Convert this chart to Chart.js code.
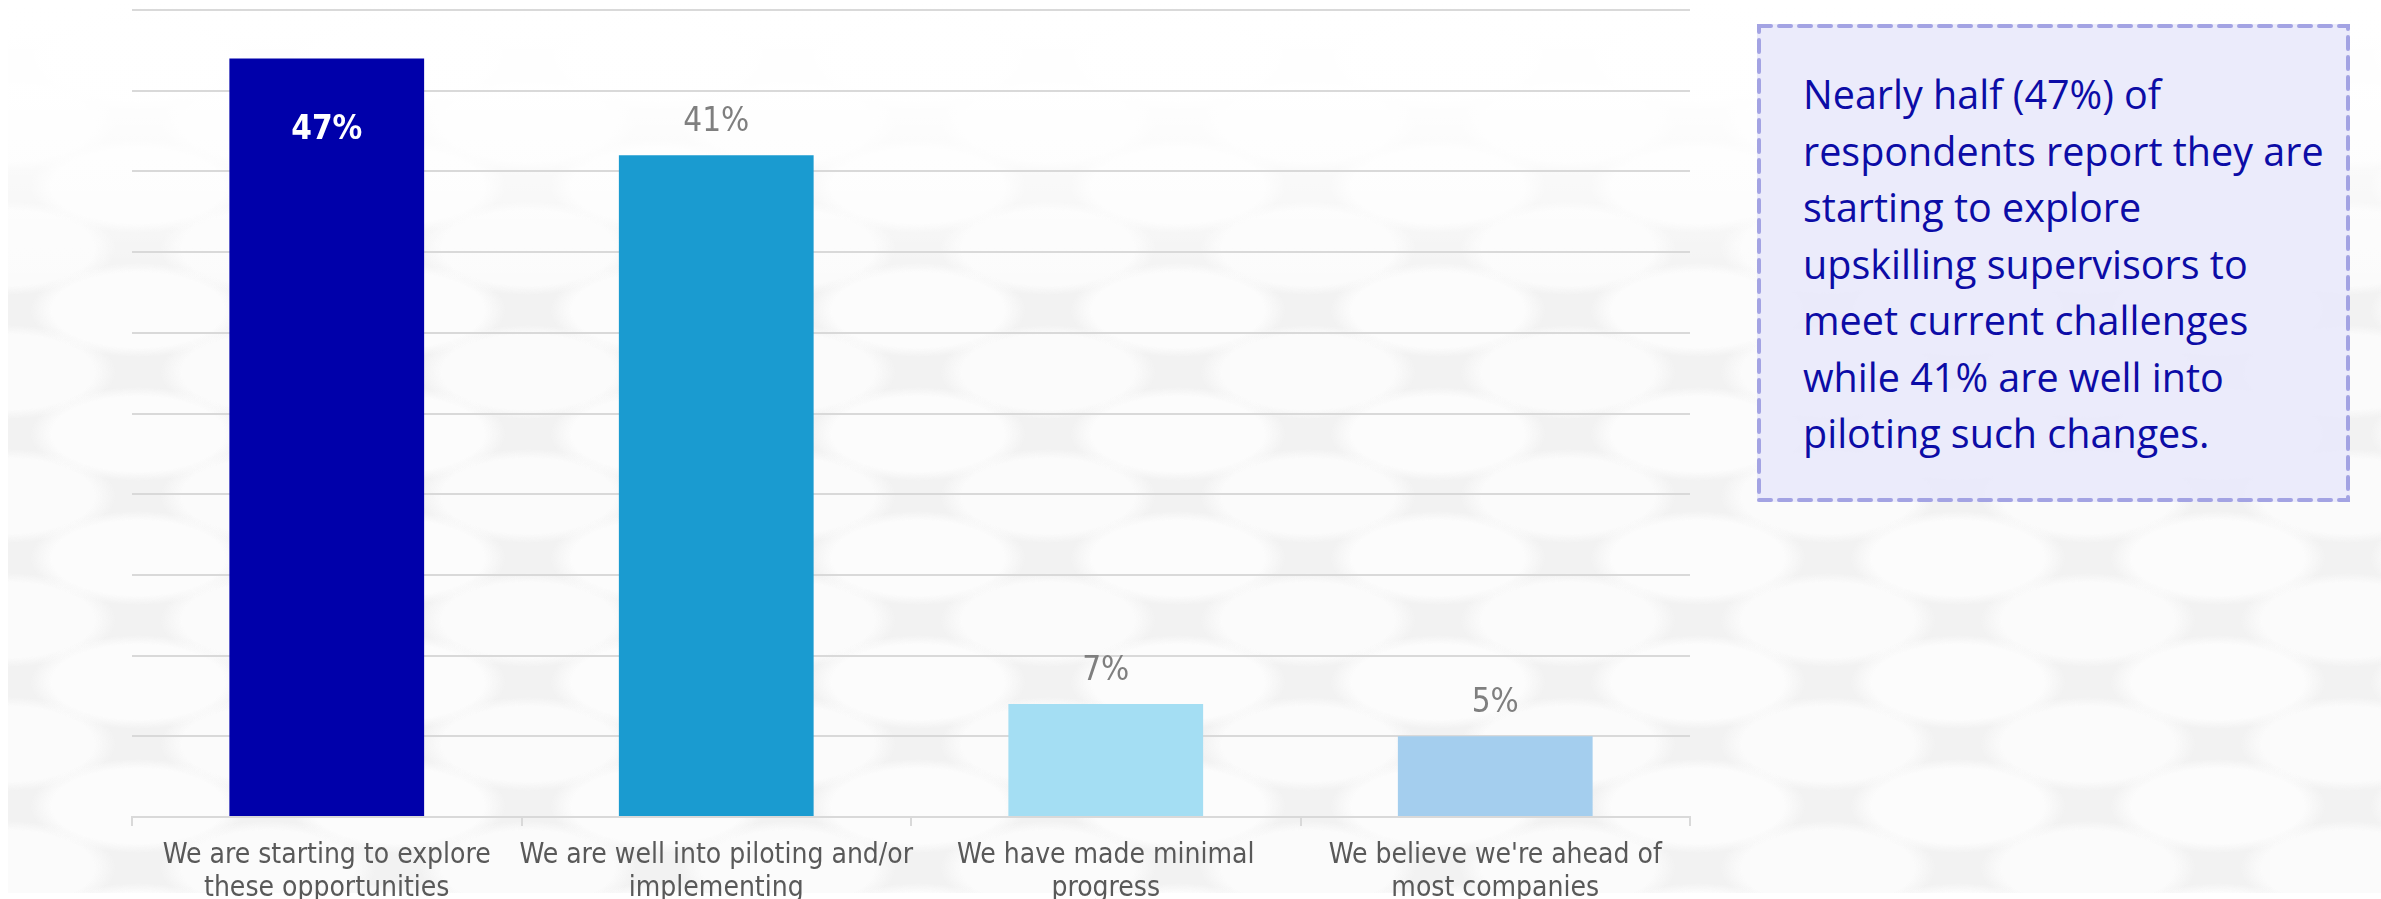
<!DOCTYPE html>
<html>
<head>
<meta charset="utf-8">
<script src="https://cdn.jsdelivr.net/npm/chart.js@4/dist/chart.umd.min.js"></script>
<style>
  html, body { margin: 0; padding: 0; }
  body {
    width: 2381px; height: 899px; position: relative; overflow: hidden;
    background-color: #ffffff;
  }
  /* faint pebble texture behind the chart */
  #bg {
    position: absolute; left: 8px; top: 0; width: 2373px; height: 893px;
    background-color: #f2f2f2;
    background-image:
      linear-gradient(to bottom, #ffffff 0px, rgba(255,255,255,0.92) 100px, rgba(255,255,255,0) 300px),
      radial-gradient(ellipse 46% 42% at 50% 50%, #fcfcfc 72%, rgba(252,252,252,0) 90%),
      radial-gradient(ellipse 46% 42% at 50% 50%, #fbfbfb 72%, rgba(251,251,251,0) 90%);
    background-size: 100% 100%, 260px 124px, 260px 124px;
    background-position: 0 0, 0 0, 130px 62px;
  }
  #wrap { position: absolute; left: 0; top: 0; width: 1700px; height: 899px; }
  #note {
    position: absolute; left: 1757px; top: 24px; width: 593px; height: 478px;
    background: rgba(233, 233, 251, 0.92);
  }
  #note svg { position: absolute; left: 0; top: 0; }
  #note p {
    position: absolute; left: 46px; top: 42px; margin: 0;
    font-family: "Open Sans", "Noto Sans", sans-serif;
    font-size: 39.5px; line-height: 56.5px; color: #0c0ca6; white-space: nowrap;
  }
</style>
</head>
<body>
<div id="bg"></div>
<div id="wrap"><canvas id="myChart"></canvas></div>
<div id="note">
  <svg width="593" height="478">
    <rect x="2" y="2" width="589" height="474" fill="none" stroke="#a3a3e3" stroke-width="4"
          stroke-dasharray="12 8" stroke-linecap="round"/>
  </svg>
  <p>Nearly half (47%) of<br>respondents report they are<br>starting to explore<br>upskilling supervisors to<br>meet current challenges<br>while 41% are well into<br>piloting such changes.</p>
</div>
<script>
  // chart values
  const categories = [
    ['We are starting to explore', 'these opportunities'],
    ['We are well into piloting and/or', 'implementing'],
    ['We have made minimal', 'progress'],
    ["We believe we're ahead of", 'most companies']
  ];
  const values = [47, 41, 7, 5];
  const barColors = ['rgb(0, 0, 170)', 'rgb(26, 155, 208)', 'rgb(164, 222, 243)', 'rgb(164, 206, 238)'];

  const labelFont = '"Liberation Sans Narrow", "DejaVu Sans Condensed", "Roboto Condensed", Roboto, sans-serif';

  // percent labels on the bars (first one sits inside, in white bold)
  const barLabels = {
    id: 'barLabels',
    afterDatasetsDraw(chart) {
      const ctx = chart.ctx;
      const meta = chart.getDatasetMeta(0);
      ctx.save();
      ctx.textAlign = 'center';
      ctx.textBaseline = 'middle';
      meta.data.forEach(function(bar, i) {
        const txt = values[i] + '%';
        if (i == 0) {
          ctx.font = 'bold 33px ' + labelFont;
          ctx.fillStyle = '#ffffff';
          ctx.fillText(txt, bar.x, bar.y + 72);
        } else {
          ctx.font = '33px ' + labelFont;
          ctx.fillStyle = '#7f7f7f';
          ctx.fillText(txt, bar.x, bar.y - 33);
        }
      });
      ctx.restore();
    }
  };

  var canvas = document.getElementById('myChart');
  var setup = {
    type: 'bar',
    data: {
      labels: categories,
      datasets: [{
        data: values,
        backgroundColor: barColors,
        borderWidth: 0,
        categoryPercentage: 1.0,
        barPercentage: 0.5
      }]
    },
    options: {
      responsive: true,
      maintainAspectRatio: false,
      animation: false,
      layout: { padding: { left: 132, right: 10, top: 10, bottom: 0 } },
      plugins: {
        legend: { display: false },
        tooltip: { enabled: false }
      },
      scales: {
        x: {
          afterFit: function(s) { s.height = 82; },
          grid: { offset: true, drawOnChartArea: false, drawTicks: true, tickLength: 9, color: '#d9d9d9', lineWidth: 2 },
          border: { display: true, color: '#d9d9d9', width: 2 },
          ticks: {
            autoSkip: false, maxRotation: 0, padding: 13,
            color: '#595959',
            font: { family: labelFont, size: 28, lineHeight: 1.18 }
          }
        },
        y: {
          min: 0, max: 50,
          afterFit: function(s) { s.width = 0; },
          grid: { color: '#d9d9d9', lineWidth: 2, drawTicks: false },
          border: { display: false },
          ticks: { display: false, stepSize: 5 }
        }
      }
    },
    plugins: [barLabels]
  };
  chart = new Chart(canvas, setup);
</script>
</body>
</html>
